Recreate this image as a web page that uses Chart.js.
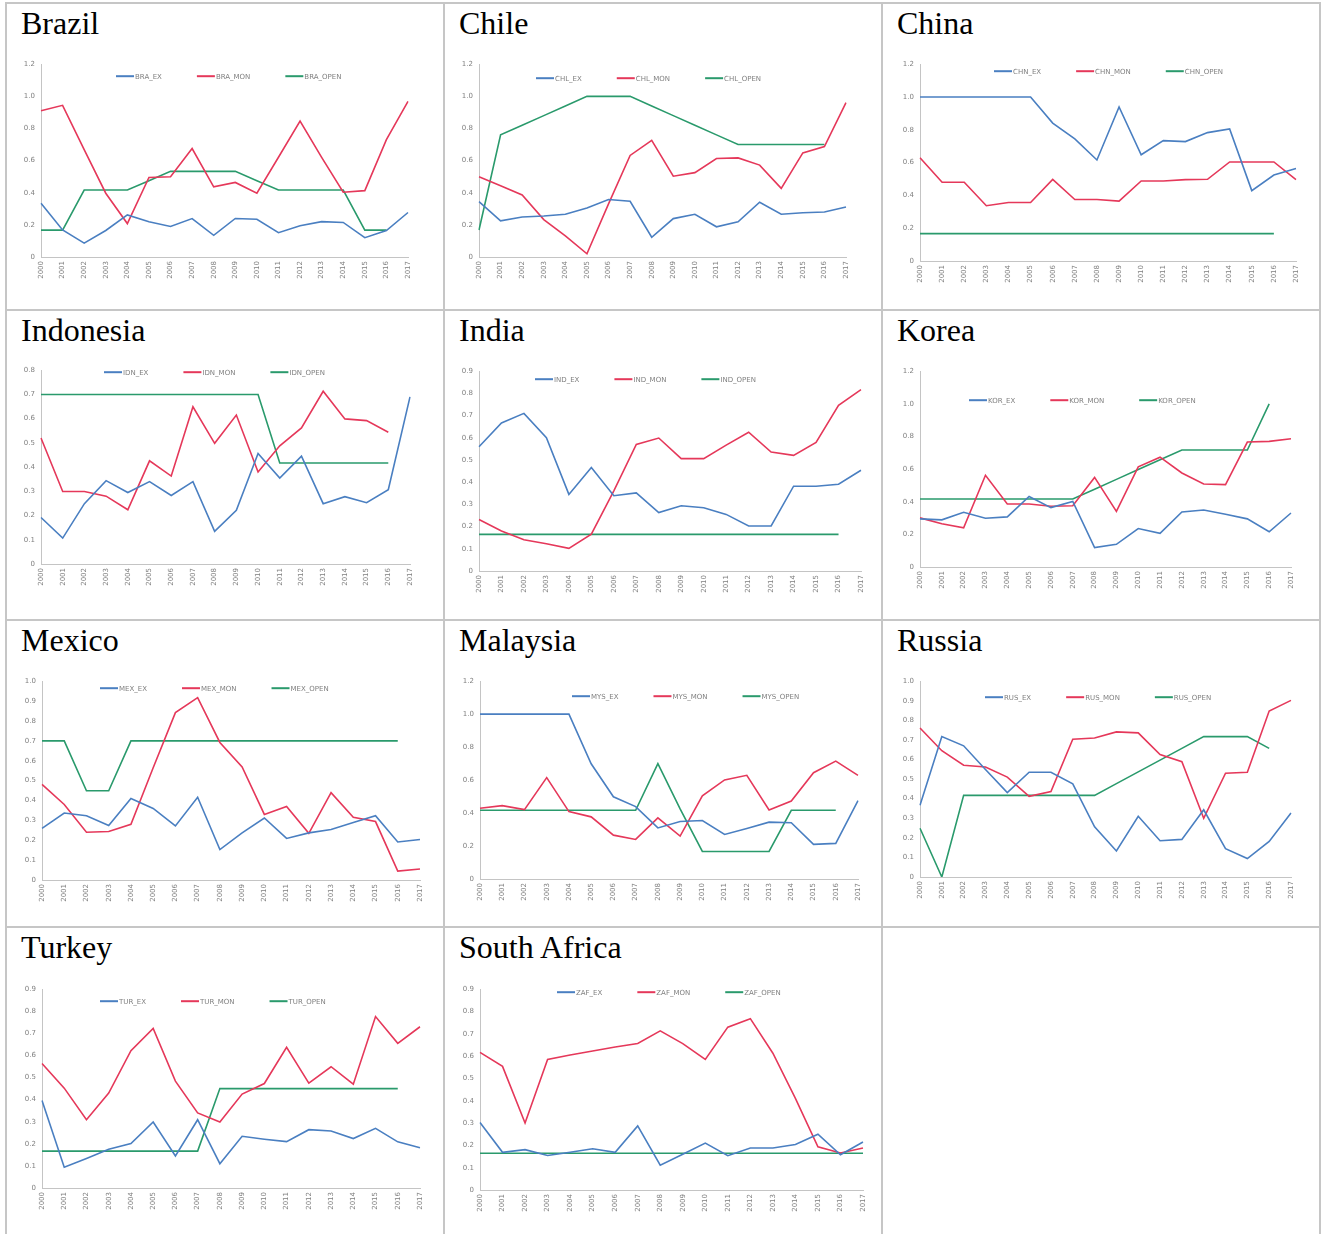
<!DOCTYPE html>
<html><head><meta charset="utf-8">
<script src="https://cdn.jsdelivr.net/npm/chart.js@4.4.1/dist/chart.umd.min.js"></script>
<style>
body{margin:0;background:#fff;width:1323px;height:1234px;overflow:hidden;position:relative}
.vl{position:absolute;width:2px;background:#c6c6c6}
.hl{position:absolute;height:2px;background:#c6c6c6}
.ttl{position:absolute;font-family:"Liberation Serif","Times New Roman",serif;font-size:32px;line-height:32px;color:#000;white-space:nowrap}
canvas{position:absolute}
</style></head><body>
<script>
// ---------------- DATA ----------------
const years = ['2000','2001','2002','2003','2004','2005','2006','2007','2008','2009','2010','2011','2012','2013','2014','2015','2016','2017'];

const countries = ['Brazil','Chile','China','Indonesia','India','Korea','Mexico','Malaysia','Russia','Turkey','South Africa'];
const codes = ['BRA','CHL','CHN','IDN','IND','KOR','MEX','MYS','RUS','TUR','ZAF'];
const yMax = [1.2,1.2,1.2,0.8,0.9,1.2,1.0,1.2,1.0,0.9,0.9];
const yStep = [0.2,0.2,0.2,0.1,0.1,0.2,0.1,0.2,0.1,0.1,0.1];

const braEx   = [0.335,0.168,0.086,0.165,0.262,0.219,0.19,0.239,0.135,0.24,0.235,0.151,0.195,0.22,0.215,0.12,0.165,0.277];
const braMon  = [0.91,0.944,0.668,0.397,0.208,0.495,0.499,0.675,0.437,0.464,0.397,0.621,0.846,0.62,0.403,0.413,0.73,0.969];
const braOpen = [0.167,0.167,0.417,0.417,0.417,0.475,0.533,0.533,0.533,0.533,0.475,0.417,0.417,0.417,0.417,0.167,0.167,null];

const chlEx   = [0.345,0.225,0.249,0.255,0.266,0.305,0.358,0.347,0.123,0.239,0.266,0.188,0.219,0.341,0.266,0.275,0.28,0.311];
const chlMon  = [0.499,0.444,0.386,0.233,0.131,0.02,0.331,0.632,0.726,0.503,0.525,0.613,0.617,0.572,0.427,0.648,0.687,0.961];
const chlOpen = [0.168,0.76,0.82,0.88,0.94,1.0,1.0,1.0,0.94,0.88,0.82,0.76,0.70,0.70,0.70,0.70,0.70,null];

const chnEx   = [1.0,1.0,1.0,1.0,1.0,1.0,0.841,0.745,0.616,0.939,0.648,0.734,0.728,0.783,0.805,0.429,0.524,0.564];
const chnMon  = [0.63,0.48,0.48,0.337,0.357,0.357,0.498,0.375,0.375,0.365,0.488,0.488,0.496,0.498,0.604,0.604,0.604,0.496];
const chnOpen = [0.167,0.167,0.167,0.167,0.167,0.167,0.167,0.167,0.167,0.167,0.167,0.167,0.167,0.167,0.167,0.167,0.167,null];

const idnEx   = [0.192,0.107,0.249,0.344,0.295,0.34,0.283,0.34,0.135,0.222,0.456,0.355,0.445,0.249,0.278,0.253,0.307,0.69];
const idnMon  = [0.52,0.299,0.299,0.28,0.224,0.426,0.363,0.649,0.498,0.615,0.38,0.488,0.562,0.713,0.599,0.592,0.544,null];
const idnOpen = [0.7,0.7,0.7,0.7,0.7,0.7,0.7,0.7,0.7,0.7,0.7,0.417,0.417,0.417,0.417,0.417,0.417,null];

const indEx   = [0.56,0.667,0.71,0.60,0.345,0.466,0.339,0.352,0.263,0.294,0.285,0.255,0.203,0.203,0.382,0.382,0.391,0.454];
const indMon  = [0.232,0.18,0.141,0.123,0.102,0.166,0.361,0.57,0.599,0.506,0.506,0.567,0.625,0.536,0.521,0.579,0.746,0.817];
const indOpen = [0.165,0.165,0.165,0.165,0.165,0.165,0.165,0.165,0.165,0.165,0.165,0.165,0.165,0.165,0.165,0.165,0.165,null];

const korEx   = [0.295,0.289,0.335,0.299,0.307,0.432,0.364,0.402,0.119,0.139,0.236,0.206,0.337,0.349,0.323,0.295,0.216,0.331];
const korMon  = [0.301,0.265,0.24,0.562,0.386,0.386,0.372,0.375,0.549,0.341,0.614,0.673,0.576,0.509,0.505,0.766,0.77,0.786];
const korOpen = [0.417,0.417,0.417,0.417,0.417,0.417,0.417,0.417,0.477,0.537,0.597,0.657,0.717,0.717,0.717,0.717,1.0,null];

const mexEx   = [0.26,0.337,0.323,0.274,0.41,0.36,0.272,0.416,0.153,0.237,0.312,0.209,0.237,0.254,0.289,0.323,0.191,0.204];
const mexMon  = [0.481,0.38,0.24,0.244,0.28,0.565,0.842,0.917,0.692,0.569,0.33,0.37,0.235,0.439,0.315,0.294,0.045,0.055];
const mexOpen = [0.7,0.7,0.449,0.449,0.7,0.7,0.7,0.7,0.7,0.7,0.7,0.7,0.7,0.7,0.7,0.7,0.7,null];

const mysEx   = [1.0,1.0,1.0,1.0,1.0,0.699,0.499,0.439,0.31,0.349,0.355,0.27,0.306,0.345,0.341,0.21,0.216,0.475];
const mysMon  = [0.429,0.445,0.421,0.615,0.409,0.377,0.266,0.24,0.371,0.26,0.505,0.601,0.629,0.419,0.473,0.645,0.715,0.629];
const mysOpen = [0.417,0.417,0.417,0.417,0.417,0.417,0.417,0.417,0.7,0.425,0.167,0.167,0.167,0.167,0.417,0.417,0.417,null];

const rusEx   = [0.367,0.717,0.67,0.549,0.431,0.535,0.535,0.476,0.256,0.133,0.31,0.185,0.192,0.343,0.145,0.094,0.182,0.327];
const rusMon  = [0.761,0.645,0.571,0.562,0.51,0.412,0.436,0.704,0.71,0.741,0.736,0.625,0.589,0.3,0.53,0.535,0.848,0.902];
const rusOpen = [0.249,0.0,0.417,0.417,0.417,0.417,0.417,0.417,0.417,0.477,0.537,0.597,0.657,0.717,0.717,0.717,0.657,null];

const turEx   = [0.396,0.094,0.134,0.175,0.201,0.299,0.145,0.309,0.11,0.234,0.221,0.21,0.264,0.258,0.224,0.27,0.209,0.182];
const turMon  = [0.564,0.452,0.309,0.43,0.622,0.722,0.484,0.34,0.299,0.425,0.473,0.637,0.475,0.549,0.47,0.776,0.655,0.73];
const turOpen = [0.167,0.167,0.167,0.167,0.167,0.167,0.167,0.167,0.45,0.45,0.45,0.45,0.45,0.45,0.45,0.45,0.45,null];

const zafEx   = [0.303,0.169,0.181,0.155,0.169,0.185,0.169,0.287,0.111,0.16,0.21,0.154,0.188,0.188,0.204,0.25,0.158,0.215];
const zafMon  = [0.617,0.554,0.30,0.585,0.605,0.623,0.641,0.657,0.713,0.656,0.585,0.73,0.768,0.613,0.411,0.194,0.166,0.188];
const zafOpen = [0.165,0.165,0.165,0.165,0.165,0.165,0.165,0.165,0.165,0.165,0.165,0.165,0.165,0.165,0.165,0.165,0.165,0.165];

const exSeries   = [braEx,chlEx,chnEx,idnEx,indEx,korEx,mexEx,mysEx,rusEx,turEx,zafEx];
const monSeries  = [braMon,chlMon,chnMon,idnMon,indMon,korMon,mexMon,mysMon,rusMon,turMon,zafMon];
const openSeries = [braOpen,chlOpen,chnOpen,idnOpen,indOpen,korOpen,mexOpen,mysOpen,rusOpen,turOpen,zafOpen];

// ---------------- LAYOUT (positions only) ----------------
// plot box [left, top, right, bottom] in page px; legend offset [dx, dy] from plot top-left
const plotBoxes = [
  [41,62,408,257],[479,62,846,257],[920,62,1296,261],
  [41,368,410,564],[479,369,861,571],[920,369,1291,567],
  [42,679,420,880],[480,679,858,879],[920,679,1291,877],
  [42,987,420,1188],[480,987,863,1190]
];
const legendOffsets = [
  [75,12],[57,14],[74,7],
  [63,2],[56,8],[49,29],
  [58,7],[92,15],[65,16],
  [58,12],[77,3]
];
const cellOrigins = [[6,3],[444,3],[882,3],[6,310],[444,310],[882,310],[6,620],[444,620],[882,620],[6,927],[444,927]];

const BLUE='#4a7fc1', RED='#e5385a', GREEN='#2a9a6c', AXIS='#c4c4c4', TICK='#7f7f7f';

// grid lines
[[5,2,1234],[443,2,1234],[881,2,1234],[1319,2,1234]].forEach(([x,y0,y1])=>{
  const d=document.createElement('div');d.className='vl';d.style.left=x+'px';d.style.top=y0+'px';d.style.height=(y1-y0)+'px';document.body.appendChild(d);
});
[2,309,619,926].forEach(y=>{
  const d=document.createElement('div');d.className='hl';d.style.left='5px';d.style.top=y+'px';d.style.width='1316px';document.body.appendChild(d);
});

const lineLegend = {
  id:'lineLegend',
  afterDatasetsDraw(chart, args, opts){
    const {ctx, chartArea} = chart;
    ctx.save();
    ctx.font = '7px "DejaVu Sans"';
    ctx.textBaseline = 'middle';
    ctx.textAlign = 'left';
    let x = chartArea.left + opts.dx;
    const y = chartArea.top + opts.dy;
    chart.data.datasets.forEach(ds=>{
      ctx.strokeStyle = ds.borderColor; ctx.lineWidth = 2;
      ctx.beginPath(); ctx.moveTo(x,y); ctx.lineTo(x+18,y); ctx.stroke();
      ctx.fillStyle = TICK;
      ctx.fillText(ds.label, x+19, y+0.5);
      x += 19 + ctx.measureText(ds.label).width + opts.gap;
    });
    ctx.restore();
  }
};

const W=30,T=8,R=18,H=26;
countries.forEach((name,i)=>{
  const [ox,oy]=cellOrigins[i];
  const t=document.createElement('div');t.className='ttl';t.textContent=name;
  t.style.left=(ox+15)+'px';t.style.top=(oy+4)+'px';document.body.appendChild(t);

  const [l,tp,r,b]=plotBoxes[i];
  const cv=document.createElement('canvas');
  cv.width=(r-l)+W+R; cv.height=(b-tp)+T+H;
  cv.style.left=(l-W)+'px'; cv.style.top=(tp-T)+'px';
  document.body.appendChild(cv);
  const tickFont={family:'DejaVu Sans',size:7};
  new Chart(cv,{
    type:'line',
    data:{labels:years,datasets:[
      {label:codes[i]+'_EX',data:exSeries[i],borderColor:BLUE,backgroundColor:BLUE},
      {label:codes[i]+'_MON',data:monSeries[i],borderColor:RED,backgroundColor:RED},
      {label:codes[i]+'_OPEN',data:openSeries[i],borderColor:GREEN,backgroundColor:GREEN}
    ]},
    options:{
      responsive:false,animation:false,devicePixelRatio:1,
      layout:{padding:{left:0,right:R,top:T,bottom:0}},
      elements:{point:{radius:0,hoverRadius:0},line:{borderWidth:1.6,tension:0}},
      plugins:{legend:{display:false},tooltip:{enabled:false},
        lineLegend:{dx:legendOffsets[i][0],dy:legendOffsets[i][1],gap:35}},
      scales:{
        x:{offset:false,grid:{display:false,drawTicks:false},border:{display:true,color:AXIS,width:1},
          ticks:{autoSkip:false,minRotation:90,maxRotation:90,padding:4,color:TICK,font:tickFont},
          afterFit(s){s.height=H;}},
        y:{min:0,max:yMax[i],grid:{display:false,drawTicks:false},border:{display:true,color:AXIS,width:1},
          ticks:{stepSize:yStep[i],padding:6,color:TICK,font:tickFont,
            callback:v=>Math.abs(v)<1e-9?'0':Number(v).toFixed(1)},
          afterFit(s){s.width=W;}}
      }
    },
    plugins:[lineLegend]
  });
});
</script>
</body></html>
